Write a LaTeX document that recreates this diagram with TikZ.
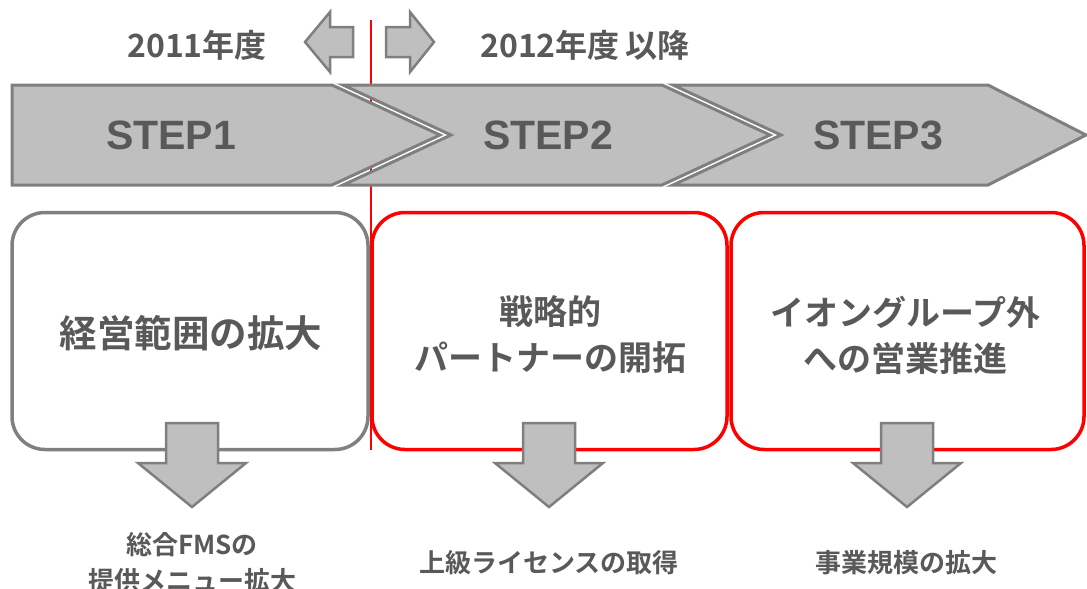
\documentclass[tikz,border=0pt]{standalone}
\usepackage{fontspec}
\setmainfont{Liberation Sans}
\newfontfamily\jp{Noto Sans CJK JP}[BoldFont={Noto Sans CJK JP Bold}]
\definecolor{txt}{HTML}{595959}
\definecolor{chevline}{HTML}{7F7F7F}
\definecolor{chevfill}{HTML}{BFBFBF}
\definecolor{boxgray}{HTML}{808080}
\definecolor{boxred}{HTML}{FF0000}
\begin{document}
\begin{tikzpicture}[x=1pt,y=-1pt,
  chev/.style={draw=chevline, fill=chevfill, line width=3pt, line join=miter},
  blk/.style={draw=chevline, fill=chevfill, line width=2.5pt, line join=miter},
  stepbox/.style={rounded corners=33pt, line width=3.5pt, minimum height=237pt, inner sep=0pt},
  lbl/.style={text=txt, inner sep=0pt, align=center},
  steplbl/.style={text=txt, inner sep=0pt, font=\fontsize{41}{48}\selectfont\bfseries}]
\useasboundingbox (0,0) rectangle (1087,589);
% divider line
\coordinate (rt) at (371,20);
\coordinate (rb) at (371,450);
\draw[boxred, line width=2.5pt] (rt) -- (rb);
% top arrows
\draw[blk] (305,42) -- (330,12) -- (330,27) -- (353,27) -- (353,57) -- (330,57) -- (330,72) -- cycle;
\draw[blk] (434,42) -- (410,12) -- (410,27) -- (386,27) -- (386,57) -- (410,57) -- (410,72) -- cycle;
\node[lbl, font=\jp\fontsize{32}{36}\selectfont\bfseries] (y1) at (197,45) {2011年度};
\node[lbl, font=\jp\fontsize{32}{36}\selectfont\bfseries] (y2) at (585,45) {2012年度\hspace{6pt}以降};
% chevrons
\draw[chev] (12,85) -- (332,85) -- (440,135) -- (332,185) -- (12,185) -- cycle;
\draw[chev] (343,85) -- (662,85) -- (770,135) -- (662,185) -- (343,185) -- (451,135) -- cycle;
\draw[chev] (673,85) -- (988,85) -- (1086,135) -- (988,185) -- (673,185) -- (781,135) -- cycle;
\node[steplbl] (s1) at (171,135) {STEP1};
\node[steplbl] (s2) at (548,135) {STEP2};
\node[steplbl] (s3) at (878,135) {STEP3};
% boxes
\node[stepbox, draw=boxgray, minimum width=356pt] (b1) at (190,331) {};
\node[stepbox, draw=boxred, minimum width=355pt] (b2) at (549.5,331) {};
\node[stepbox, draw=boxred, minimum width=353pt] (b3) at (907.5,331) {};
\node[lbl, font=\jp\fontsize{37.5}{46}\selectfont\bfseries] (t1) at (191,333) {経営範囲の拡大};
\node[lbl, font=\jp\fontsize{34}{46}\selectfont\bfseries] (t2) at (550,335) {戦略的\\パートナーの開拓};
\node[lbl, font=\jp\fontsize{34}{46}\selectfont\bfseries] (t3) at (905,335) {イオングループ外\\への営業推進};
% down arrows
\foreach \c in {192,549,907}{
  \draw[blk] ({\c-26},423) -- ({\c+26},423) -- ({\c+26},463) -- ({\c+54},463) -- (\c,507) -- ({\c-54},463) -- ({\c-26},463) -- cycle;
}
% results
\node[lbl, font=\jp\fontsize{26}{36}\selectfont\bfseries] (r1) at (192,563) {総合FMSの\\提供メニュー拡大};
\node[lbl, font=\jp\fontsize{26}{36}\selectfont\bfseries] (r2) at (549,563) {上級ライセンスの取得};
\node[lbl, font=\jp\fontsize{26}{36}\selectfont\bfseries] (r3) at (906,563) {事業規模の拡大};
\end{tikzpicture}
\end{document}
